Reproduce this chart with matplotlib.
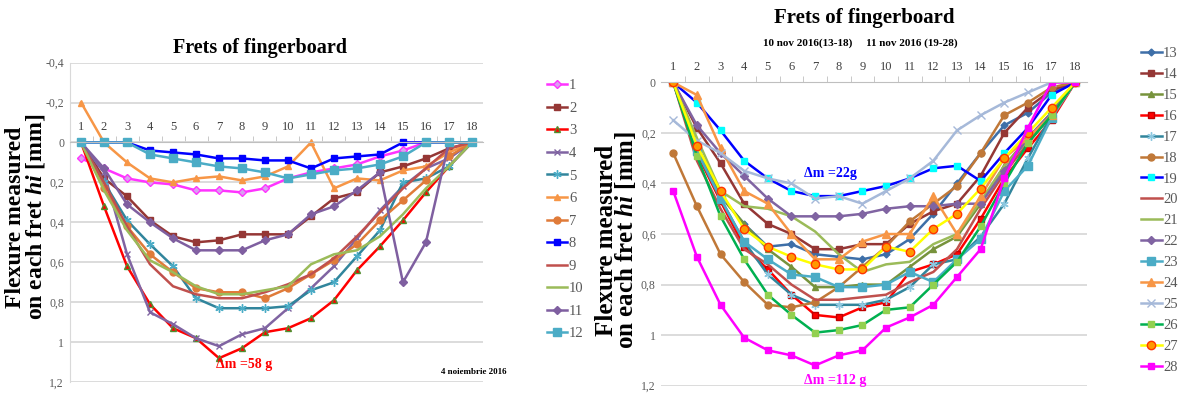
# -*- coding: utf-8 -*-

import numpy as np
import matplotlib
matplotlib.use('Agg')
import matplotlib.pyplot as plt
from matplotlib.ticker import FuncFormatter, MultipleLocator


########################################################################################################################
# data: flexure (mm) measured on each fret
frets = list(range(1, 19))

# left panel, 4 noiembrie 2016
s1 = [0.08, 0.13, 0.18, 0.20, 0.21, 0.24, 0.24, 0.25, 0.23, 0.18, 0.15, 0.13, 0.11, 0.07, 0.04, 0, 0, 0]
s2 = [0, 0.18, 0.27, 0.39, 0.47, 0.50, 0.49, 0.46, 0.46, 0.46, 0.37, 0.28, 0.25, 0.15, 0.12, 0.08, 0.03, 0]
s3 = [0, 0.32, 0.62, 0.81, 0.93, 0.98, 1.08, 1.03, 0.95, 0.93, 0.88, 0.79, 0.64, 0.52, 0.39, 0.25, 0.12, 0]
s4 = [0, 0.15, 0.56, 0.85, 0.91, 0.98, 1.02, 0.96, 0.93, 0.83, 0.73, 0.62, 0.48, 0.34, 0.22, 0.13, 0.08, 0]
s5 = [0, 0.20, 0.39, 0.51, 0.62, 0.78, 0.83, 0.83, 0.83, 0.82, 0.74, 0.70, 0.57, 0.44, 0.20, 0.18, 0.12, 0]
s6 = [-0.20, 0, 0.10, 0.18, 0.20, 0.18, 0.17, 0.19, 0.17, 0.12, 0.0, 0.23, 0.18, 0.19, 0.14, 0.12, 0.05, 0]
s7 = [0, 0.23, 0.42, 0.56, 0.65, 0.73, 0.75, 0.75, 0.78, 0.73, 0.66, 0.59, 0.51, 0.39, 0.29, 0.19, 0.07, 0]
s8 = [0, 0, 0, 0.04, 0.05, 0.06, 0.08, 0.08, 0.09, 0.09, 0.13, 0.08, 0.07, 0.06, 0.0, 0, 0, 0]
s9 = [0, 0.20, 0.42, 0.61, 0.72, 0.76, 0.78, 0.78, 0.75, 0.71, 0.66, 0.58, 0.47, 0.35, 0.23, 0.13, 0.03, 0]
s10 = [0, 0.24, 0.44, 0.59, 0.65, 0.72, 0.76, 0.76, 0.74, 0.72, 0.61, 0.56, 0.54, 0.47, 0.36, 0.23, 0.12, 0]
s11 = [0, 0.13, 0.31, 0.40, 0.48, 0.54, 0.54, 0.54, 0.49, 0.46, 0.36, 0.32, 0.24, 0.15, 0.70, 0.50, 0.0, 0]
s12 = [0, 0, 0, 0.06, 0.08, 0.10, 0.12, 0.13, 0.15, 0.18, 0.16, 0.14, 0.13, 0.11, 0.07, 0, 0, 0]

# right panel, 10 nov 2016 (13-18), 11 nov 2016 (19-28)
s13 = [0, 0.25, 0.45, 0.56, 0.65, 0.64, 0.68, 0.69, 0.70, 0.68, 0.62, 0.52, 0.40, 0.28, 0.17, 0.12, 0.04, 0]
s14 = [0, 0.18, 0.32, 0.48, 0.56, 0.60, 0.66, 0.66, 0.64, 0.64, 0.56, 0.51, 0.48, 0.37, 0.20, 0.10, 0.03, 0]
s15 = [0, 0.25, 0.45, 0.56, 0.66, 0.73, 0.81, 0.81, 0.80, 0.80, 0.73, 0.66, 0.61, 0.48, 0.33, 0.22, 0.12, 0]
s16 = [0, 0.28, 0.47, 0.65, 0.74, 0.84, 0.92, 0.93, 0.89, 0.87, 0.75, 0.72, 0.68, 0.54, 0.38, 0.26, 0.15, 0]
s17 = [0, 0.27, 0.46, 0.63, 0.76, 0.84, 0.88, 0.88, 0.88, 0.86, 0.81, 0.72, 0.70, 0.61, 0.48, 0.30, 0.13, 0]
s18 = [0.28, 0.49, 0.68, 0.79, 0.88, 0.89, 0.87, 0.81, 0.73, 0.65, 0.55, 0.48, 0.41, 0.28, 0.13, 0.08, 0.02, 0]
s19 = [0, 0.08, 0.19, 0.31, 0.38, 0.43, 0.45, 0.45, 0.43, 0.41, 0.38, 0.34, 0.33, 0.39, 0.28, 0.18, 0.05, 0]
s20 = [0, 0.31, 0.50, 0.66, 0.72, 0.80, 0.86, 0.86, 0.85, 0.84, 0.79, 0.75, 0.66, 0.50, 0.36, 0.24, 0.13, 0]
s21 = [0, 0.22, 0.43, 0.49, 0.50, 0.53, 0.59, 0.68, 0.75, 0.72, 0.71, 0.64, 0.60, 0.47, 0.33, 0.23, 0.12, 0]
s22 = [0, 0.17, 0.28, 0.37, 0.46, 0.53, 0.53, 0.53, 0.52, 0.50, 0.49, 0.49, 0.48, 0.48, 0.35, 0.22, 0.12, 0]
s23 = [0, 0.27, 0.46, 0.63, 0.70, 0.76, 0.77, 0.81, 0.81, 0.80, 0.75, 0.79, 0.70, 0.62, 0.43, 0.33, 0.14, 0]
s24 = [0, 0.05, 0.26, 0.43, 0.48, 0.60, 0.70, 0.70, 0.63, 0.60, 0.60, 0.45, 0.60, 0.45, 0.30, 0.22, 0.13, 0]
s25 = [0.15, 0.23, 0.28, 0.35, 0.38, 0.40, 0.46, 0.45, 0.48, 0.43, 0.38, 0.31, 0.19, 0.13, 0.08, 0.04, 0.0, 0]
s26 = [0, 0.29, 0.53, 0.70, 0.84, 0.92, 0.99, 0.98, 0.96, 0.90, 0.89, 0.80, 0.71, 0.57, 0.40, 0.24, 0.13, 0]
s27 = [0, 0.25, 0.43, 0.58, 0.65, 0.69, 0.72, 0.74, 0.74, 0.65, 0.67, 0.58, 0.52, 0.42, 0.30, 0.20, 0.10, 0]
s28 = [0.43, 0.69, 0.88, 1.01, 1.06, 1.08, 1.12, 1.08, 1.06, 0.97, 0.93, 0.88, 0.77, 0.66, 0.38, 0.18, 0.0, 0]

left_series = [s1, s2, s3, s4, s5, s6, s7, s8, s9, s10, s11, s12]
right_series = [s13, s14, s15, s16, s17, s18, s19, s20, s21, s22, s23, s24, s25, s26, s27, s28]
left_labels = [str(i) for i in range(1, 13)]
right_labels = [str(i) for i in range(13, 29)]

# (line colour, marker, marker face, marker edge, marker size)
ast = (6, 2, 0)
left_styles = [
    ('#FF33FF', 'D', '#D9A0F0', '#FF33FF', 4),
    ('#953735', 's', '#953735', '#953735', 5),
    ('#FF0000', '^', '#FF0000', '#4F8F2F', 5),
    ('#8064A2', 'x', '#8064A2', '#8064A2', 5),
    ('#31859C', ast, '#4BACC6', '#4BACC6', 6),
    ('#F79646', '^', '#F79646', '#F79646', 5),
    ('#E07B39', 'o', '#E07B39', '#E07B39', 5),
    ('#0000FF', 's', '#0000FF', '#0000FF', 5),
    ('#C0504D', None, None, None, 0),
    ('#9BBB59', None, None, None, 0),
    ('#7F5FA0', 'D', '#7F5FA0', '#7F5FA0', 4),
    ('#4BACC6', 's', '#4BACC6', '#4BACC6', 6),
]
right_styles = [
    ('#3E6FA8', 'D', '#3E6FA8', '#3E6FA8', 3.5),
    ('#953735', 's', '#953735', '#953735', 5),
    ('#77933C', '^', '#77933C', '#77933C', 5),
    ('#FF0000', 's', '#FF0000', '#C00000', 4),
    ('#31859C', ast, '#8DC8E0', '#8DC8E0', 6),
    ('#C07838', 'o', '#C07838', '#C07838', 5),
    ('#0000FF', 's', '#00FFFF', '#00FFFF', 5),
    ('#C0504D', None, None, None, 0),
    ('#9BBB59', None, None, None, 0),
    ('#8064A2', 'D', '#8064A2', '#8064A2', 4),
    ('#4BACC6', 's', '#4BACC6', '#4BACC6', 6),
    ('#F79646', '^', '#F79646', '#F79646', 6),
    ('#A6B9D9', 'x', '#A6B9D9', '#A6B9D9', 6),
    ('#00B050', 's', '#92D050', '#92D050', 5),
    ('#FFFF00', 'o', '#FF9900', '#FF3300', 6),
    ('#FF00FF', 's', '#FF00FF', '#FF00FF', 5),
]


########################################################################################################################
# fonts
plt.rcParams['font.family'] = ['Liberation Serif', 'DejaVu Serif']
plt.rcParams['mathtext.fontset'] = 'custom'
plt.rcParams['mathtext.it'] = 'Liberation Serif:bold:italic'
plt.rcParams['mathtext.rm'] = 'Liberation Serif:bold'

tick_grey = '#595959'
comma = FuncFormatter(lambda v, p: ('%g' % round(v, 2)).replace('.', ','))


def setup_axes(ax, ylim):
    ax.set_xlim(0.5, 18.5)
    ax.set_ylim(ylim)
    ax.yaxis.set_major_locator(MultipleLocator(0.2))
    ax.yaxis.set_major_formatter(comma)
    ax.grid(axis='y', color='#D9D9D9', lw=1.3)
    ax.set_axisbelow(True)
    # category axis crossing at 0, labels above it
    ax.xaxis.tick_top()
    ax.spines['top'].set_position(('data', 0))
    ax.spines['top'].set_color('#BFBFBF')
    for sp in ['right', 'bottom']:
        ax.spines[sp].set_visible(False)
    ax.set_xticks(frets)
    ax.set_xticks(np.arange(1.5, 18.5, 1), minor=True)
    ax.tick_params(axis='x', which='major', length=0, labelsize=9, pad=7, labelcolor='#404040')
    ax.tick_params(axis='x', which='minor', length=4, color='#BFBFBF', direction='out')
    ax.tick_params(axis='y', length=0, labelsize=8.5, labelcolor=tick_grey, pad=4)


def draw(ax, series, styles, labels):
    handles = []
    for ys, lab, (c, m, fc, ec, ms) in zip(series, labels, styles):
        h, = ax.plot(frets, ys, color=c, lw=1.8, marker=m, markerfacecolor=fc,
                     markeredgecolor=ec, markersize=ms, label=lab)
        handles.append(h)
    return handles


fig = plt.figure(figsize=(11.79, 3.96), dpi=100)

########################################################################################################################
# left panel
ax1 = fig.add_axes([0.059, 0.035, 0.351, 0.807])
setup_axes(ax1, (1.2, -0.4))
ax1.spines['left'].set_color('#D9D9D9')
h1 = draw(ax1, left_series, left_styles, left_labels)
fig.text(0.2205, 0.879, 'Frets of fingerboard', fontsize=14.5, fontweight='bold', ha='center', va='center')
ax1.text(8.1, 1.11, '\u0394m =58 g', color='#FF0000', fontsize=10, fontweight='bold', ha='center', va='center')
ax1.text(18.1, 1.15, '4 noiembrie 2016', fontsize=6.5, fontweight='bold', ha='center', va='center')
fig.text(0.022, 0.452, 'Flexure measured\non each fret $hi$ [mm]', rotation=90, fontsize=17,
         fontweight='bold', ha='center', va='center', linespacing=0.85)
fig.legend(handles=h1, loc='upper left', bbox_to_anchor=(0.464, 0.80), frameon=False,
           fontsize=10.5, labelspacing=0.64, handlelength=1.4, handletextpad=0.1,
           borderaxespad=0, borderpad=0, labelcolor=tick_grey)

########################################################################################################################
# right panel
ax2 = fig.add_axes([0.561, 0.026, 0.361, 0.766])
setup_axes(ax2, (1.2, 0))
ax2.spines['left'].set_visible(False)
h2 = draw(ax2, right_series, right_styles, right_labels)
fig.text(0.733, 0.955, 'Frets of fingerboard', fontsize=15, fontweight='bold', ha='center', va='center')
fig.text(0.730, 0.892, '10 nov 2016(13-18)     11 nov 2016 (19-28)', fontsize=8, fontweight='bold',
         ha='center', va='center')
ax2.text(7.64, 0.36, '\u0394m =22g', color='#0000FF', fontsize=10, fontweight='bold', ha='center', va='center')
ax2.text(7.85, 1.18, '\u0394m =112 g', color='#FF00FF', fontsize=10, fontweight='bold', ha='center', va='center')
fig.text(0.523, 0.394, 'Flexure measured\non each fret $hi$ [mm]', rotation=90, fontsize=18,
         fontweight='bold', ha='center', va='center', linespacing=0.78)
fig.legend(handles=h2, loc='upper left', bbox_to_anchor=(0.968, 0.882), frameon=False,
           fontsize=10.5, labelspacing=0.53, handlelength=1.4, handletextpad=0.1,
           borderaxespad=0, borderpad=0, labelcolor=tick_grey)

fig.savefig('out.png', dpi=100)
